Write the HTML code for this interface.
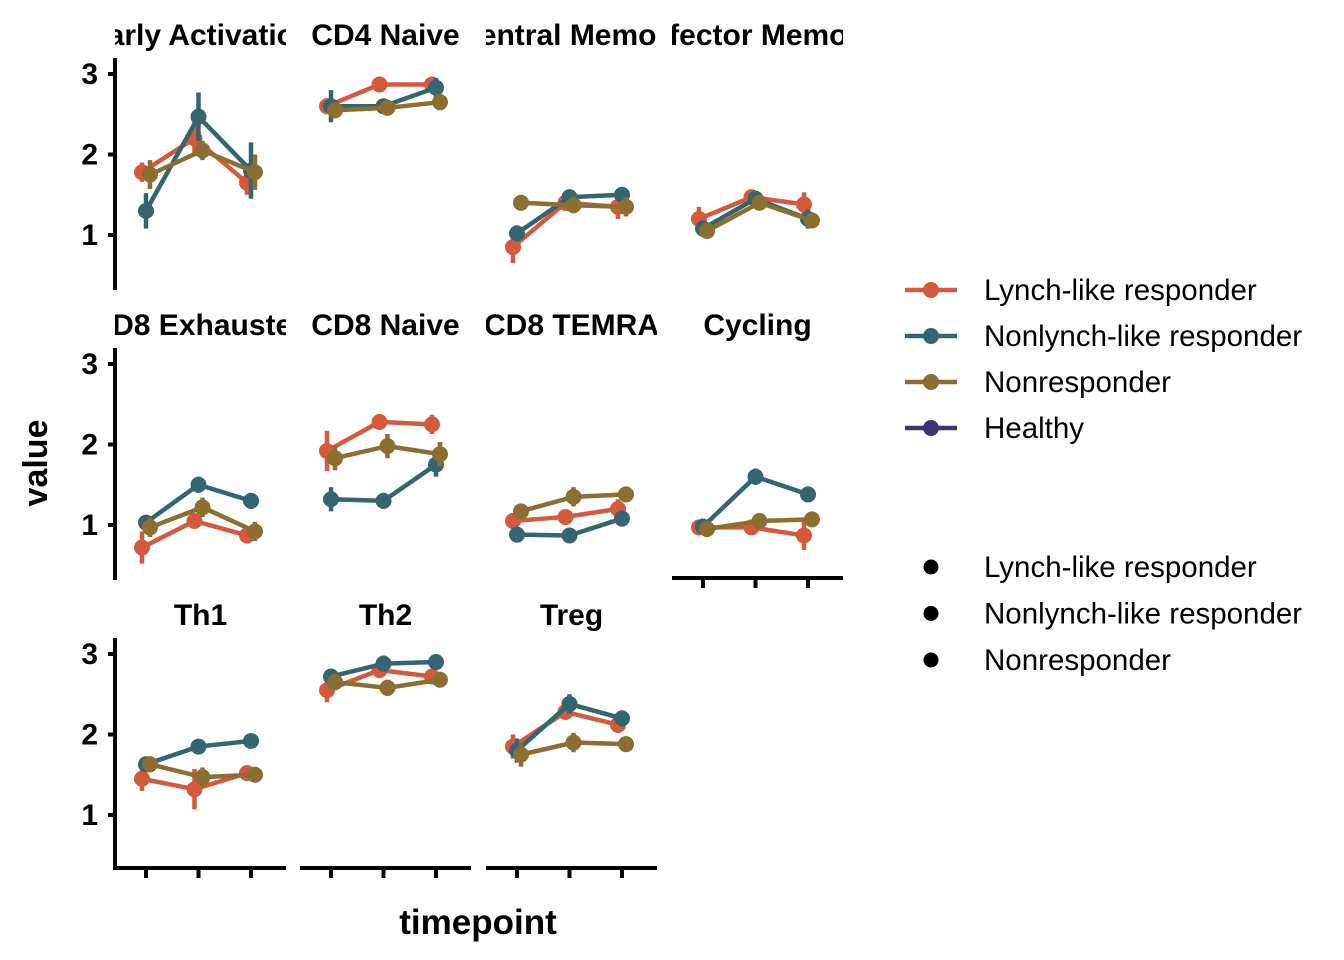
<!DOCTYPE html>
<html><head><meta charset="utf-8"><style>
body{margin:0;background:#fff}
svg{display:block;font-family:"Liberation Sans",Arial,sans-serif}
</style></head><body>
<svg id="chart" width="1344" height="960" viewBox="0 0 1344 960"></svg>
<script>
const panels=["Early Activation","CD4 Naive","Central Memory","Effector Memory","CD8 Exhausted","CD8 Naive","CD8 TEMRA","Cycling","Th1","Th2","Treg"];
const groups=["Lynch-like responder","Nonlynch-like responder","Nonresponder"];
const lynch=[[1.78,2.2,1.65],[2.6,2.87,2.87],[0.85,1.4,1.35],[1.2,1.47,1.38],[0.72,1.05,0.87],[1.92,2.28,2.25],[1.05,1.1,1.2],[0.97,0.97,0.87],[1.45,1.32,1.52],[2.55,2.8,2.72],[1.85,2.28,2.12]];
const nonlynch=[[1.3,2.47,1.8],[2.6,2.6,2.83],[1.02,1.47,1.5],[1.08,1.45,1.2],[1.03,1.5,1.3],[1.32,1.3,1.75],[0.88,0.87,1.08],[0.98,1.6,1.38],[1.63,1.85,1.92],[2.72,2.88,2.9],[1.8,2.38,2.2]];
const nonresp=[[1.75,2.05,1.78],[2.55,2.58,2.65],[1.4,1.37,1.35],[1.05,1.4,1.18],[0.97,1.22,0.92],[1.83,1.98,1.88],[1.17,1.35,1.38],[0.95,1.05,1.07],[1.63,1.47,1.5],[2.65,2.58,2.68],[1.75,1.9,1.88]];
const lynchErr=[[0.12,0.22,0.15],[0.1,0.06,0.08],[0.2,0.1,0.15],[0.15,0.05,0.15],[0.2,0.08,0.1],[0.25,0.06,0.12],[0.1,0.05,0.12],[0.08,0.05,0.18],[0.15,0.25,0.06],[0.15,0.1,0.08],[0.15,0.08,0.1]];
const nonlynchErr=[[0.22,0.3,0.35],[0.2,0.06,0.12],[0.1,0.08,0.08],[0.1,0.06,0.12],[0.08,0.1,0.1],[0.15,0.1,0.15],[0.06,0.04,0.1],[0.1,0.1,0.05],[0.06,0.05,0.05],[0.08,0.1,0.05],[0.15,0.12,0.1]];
const nonrespErr=[[0.18,0.12,0.22],[0.1,0.08,0.1],[0.05,0.1,0.12],[0.08,0.06,0.08],[0.12,0.12,0.12],[0.15,0.15,0.15],[0.06,0.12,0.06],[0.1,0.06,0.05],[0.1,0.12,0.08],[0.1,0.1,0.08],[0.15,0.12,0.08]];
const yTicks=[1,2,3];
const colors=["#D35A3E","#35656F","#8B6E31","#3C3479"];
const series=[lynch,nonlynch,nonresp], errs=[lynchErr,nonlynchErr,nonrespErr];
const NS="http://www.w3.org/2000/svg", svg=document.getElementById("chart");
function mk(t,a,p){const e=document.createElementNS(NS,t);for(const k in a)e.setAttribute(k,a[k]);(p||svg).appendChild(e);return e;}
const colX=[115,300,486,672], colW=171, rowTop=[58,348,638], rowH=232;
function yScale(r,v){return rowTop[r]+16+(3-v)*80.5;}
function xScale(c,i){return colX[c]+31+i*52.5;}
const dodge=[-4,0,4];
panels.forEach((name,p)=>{
  const r=Math.floor(p/4), c=p%4;
  const g=mk("g",{});
  
  
  const cp=mk("clipPath",{id:"cp"+p});mk("rect",{x:colX[c],y:rowTop[r]-45,width:colW,height:45},cp);
  const t=mk("text",{x:colX[c]+colW/2,y:rowTop[r]-13,"text-anchor":"middle","font-size":30,"font-weight":"bold","clip-path":"url(#cp"+p+")"},g);
  t.textContent=name;
  
  
  if(c===0){
    mk("line",{x1:colX[c],x2:colX[c],y1:rowTop[r],y2:rowTop[r]+rowH,stroke:"#000","stroke-width":4},g);
    yTicks.forEach(v=>{const y=yScale(r,v);
      mk("line",{x1:colX[c]-7,x2:colX[c],y1:y,y2:y,stroke:"#000","stroke-width":4},g);
      const tl=mk("text",{x:colX[c]-17,y:y+10,"text-anchor":"end","font-size":30,"font-weight":"bold"},g);tl.textContent=v;
      
      });
  }
  if(r===2||p===7){
    const yb=rowTop[r]+rowH-2;
    mk("line",{x1:colX[c],x2:colX[c]+colW,y1:yb,y2:yb,stroke:"#000","stroke-width":4},g);
    for(let i=0;i<3;i++){const x=xScale(c,i);mk("line",{x1:x,x2:x,y1:yb,y2:yb+10,stroke:"#000","stroke-width":4},g);}
  }
  series.forEach((s,k)=>{
    const pts=s[p].map((v,i)=>[xScale(c,i)+dodge[k],yScale(r,v)]);
    const pl=mk("polyline",{points:pts.map(q=>q.join(",")).join(" "),fill:"none",stroke:colors[k],"stroke-width":4.5},g);
    
    
    s[p].forEach((v,i)=>{const x=pts[i][0],e=errs[k][p][i];
      mk("line",{x1:x,x2:x,y1:yScale(r,v+e),y2:yScale(r,v-e),stroke:colors[k],"stroke-width":4.5},g);
      const d=mk("circle",{cx:x,cy:pts[i][1],r:8,fill:colors[k]},g);
      
      });
  });
});
const yl=mk("text",{x:0,y:0,transform:"translate(47,463) rotate(-90)","text-anchor":"middle","font-size":34,"font-weight":"bold"});yl.textContent="value";


const xl=mk("text",{x:478,y:934,"text-anchor":"middle","font-size":35,"font-weight":"bold"});xl.textContent="timepoint";


const legNames=["Lynch-like responder","Nonlynch-like responder","Nonresponder","Healthy"];
legNames.forEach((n,i)=>{const y=290+i*46;
  const g=mk("g",{});
  
  
  mk("line",{x1:905,x2:957,y1:y,y2:y,stroke:colors[i],"stroke-width":4.5},g);
  mk("circle",{cx:931,cy:y,r:8,fill:colors[i]},g);
  const t=mk("text",{x:984,y:y+10,"font-size":29.5},g);t.textContent=n;});
groups.forEach((n,i)=>{const y=567+i*46.5;
  const g=mk("g",{});
  
  
  mk("circle",{cx:931,cy:y,r:7.5,fill:"#000"},g);
  const t=mk("text",{x:984,y:y+10,"font-size":29.5},g);t.textContent=n;});
</script>
</body></html>
